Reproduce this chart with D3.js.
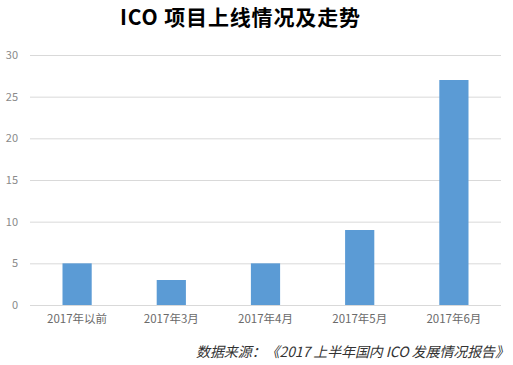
<!DOCTYPE html>
<html><head><meta charset="utf-8">
<script src="https://cdn.jsdelivr.net/npm/d3@7"></script>
<style>body{margin:0;background:#fff}</style>
</head><body><svg id="c" width="513" height="365"></svg>
<script>
const categories = ["2017年以前","2017年3月","2017年4月","2017年5月","2017年6月"];
const values = [5,3,5,9,27];
const yTicks = [0,5,10,15,20,25,30];
const titleText = "ICO 项目上线情况及走势";
const sourceText = "数据来源：《2017 上半年国内 ICO 发展情况报告》";

const svg = d3.select("#c");
const font = "'Noto Sans CJK SC','Microsoft YaHei',sans-serif";
const m = {left:30, right:12, top:55, bottom:60};
const W = 513, H = 365;
const x = d3.scaleBand().domain(categories).range([m.left, W - m.right]).paddingInner(0.69).paddingOuter(0.345);
const y = d3.scaleLinear().domain([0,30]).range([305, 55]);

const yAxis = d3.axisLeft(y).tickValues(yTicks).tickSize(-(W - m.right - m.left)).tickPadding(12);
const gy = svg.append("g").attr("transform", `translate(${m.left},0)`).call(yAxis);
gy.select(".domain").remove();
gy.selectAll(".tick line").attr("stroke", "#d9d9d9");
gy.selectAll(".tick text").attr("fill", "#8a8a8a").style("font-size","11px").style("font-family", font);

svg.append("g").selectAll("rect").data(values).join("rect")
  .attr("x", (d,i) => x(categories[i]))
  .attr("y", d => y(d))
  .attr("width", x.bandwidth())
  .attr("height", d => y(0) - y(d))
  .attr("fill", "#5b9bd5");

const xAxis = d3.axisBottom(x).tickSize(0).tickPadding(10);
const gx = svg.append("g").attr("transform", `translate(0,${y(0)})`).call(xAxis);
gx.select(".domain").remove();
gx.selectAll(".tick text").attr("fill", "#6a6a6a").style("font-size","11.5px").style("font-family", font);

svg.append("text").attr("x", 240).attr("y", 25).attr("text-anchor","middle")
  .attr("textLength", 240).attr("lengthAdjust","spacing")
  .style("font-size","21px").style("font-weight","bold").style("font-family", font).attr("fill","#000")
  .text(titleText);

svg.append("text").attr("x", 509).attr("y", 357).attr("text-anchor","end")
  .attr("textLength", 313).attr("lengthAdjust","spacing")
  .style("font-size","14px").style("font-style","italic").style("font-family", font).attr("fill","#333")
  .text(sourceText);
</script></body></html>
